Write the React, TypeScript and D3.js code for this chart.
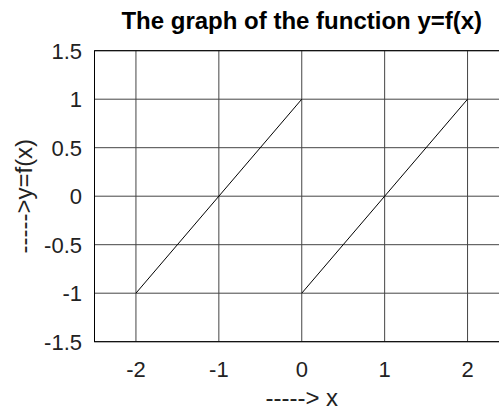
import React from "react";
import * as d3 from "d3";

// Function y = f(x): a sawtooth made of two linear pieces
const segment1X = [-2, 0];
const segment1Y = [-1, 1];
const segment2X = [0, 2];
const segment2Y = [-1, 1];

const xTicks = [-2, -1, 0, 1, 2];
const yTicks = [-1.5, -1, -0.5, 0, 0.5, 1, 1.5];

const titleText = "The graph of the function y=f(x)";
const xLabelText = "-----> x";
const yLabelText = "----->y=f(x)";

const W = 499;
const H = 410;
const margin = { left: 94.5, top: 50.7, right: 509, bottom: 341.7 };

export default function App() {
  const x = d3.scaleLinear().domain([-2.5, 2.5]).range([margin.left, margin.right]);
  const y = d3.scaleLinear().domain([-1.5, 1.5]).range([margin.bottom, margin.top]);

  const line = d3
    .line<[number, number]>()
    .x((d) => x(d[0]))
    .y((d) => y(d[1]));

  const seg1 = segment1X.map((v, i) => [v, segment1Y[i]] as [number, number]);
  const seg2 = segment2X.map((v, i) => [v, segment2Y[i]] as [number, number]);

  const font = "'Liberation Sans', Arial, Helvetica, sans-serif";
  const cx = x(0);
  const cy = (margin.top + margin.bottom) / 2;

  return (
    <div style={{ position: "fixed", left: 0, top: 0, width: W, height: H, background: "#fff" }}>
      <svg width={W} height={H} style={{ display: "block" }} fontFamily={font}>
        <rect x={0} y={0} width={W} height={H} fill="#fff" />
        {/* grid */}
        {xTicks.map((t) => (
          <line key={"gx" + t} x1={x(t)} x2={x(t)} y1={y(-1.5)} y2={y(1.5)} stroke="#444" strokeWidth={1} />
        ))}
        {yTicks.map((t) => (
          <line key={"gy" + t} x1={x(-2.5)} x2={x(2.5)} y1={y(t)} y2={y(t)} stroke="#444" strokeWidth={1} />
        ))}
        {/* frame */}
        <rect
          x={x(-2.5)}
          y={y(1.5)}
          width={x(2.5) - x(-2.5)}
          height={y(-1.5) - y(1.5)}
          fill="none"
          stroke="#000"
          strokeWidth={1}
        />
        {/* curve */}
        <path d={line(seg1) || ""} fill="none" stroke="#000" strokeWidth={1} />
        <path d={line(seg2) || ""} fill="none" stroke="#000" strokeWidth={1} />
        {/* tick labels */}
        {xTicks.map((t) => (
          <text key={"tx" + t} x={x(t)} y={377} fontSize={22} textAnchor="middle" fill="#222">
            {t}
          </text>
        ))}
        {yTicks.map((t) => (
          <text
            key={"ty" + t}
            x={82}
            y={y(t)}
            dy="0.36em"
            fontSize={22}
            textAnchor="end"
            fill="#222"
          >
            {t}
          </text>
        ))}
        {/* title and axis labels */}
        <text x={cx} y={29} fontSize={24} fontWeight="bold" textAnchor="middle" fill="#000">
          {titleText}
        </text>
        <text x={cx} y={406} fontSize={24} textAnchor="middle" fill="#222">
          {xLabelText}
        </text>
        <text
          transform={`translate(32,${cy}) rotate(-90)`}
          fontSize={24}
          textAnchor="middle"
          fill="#222"
        >
          {yLabelText}
        </text>
      </svg>
    </div>
  );
}
